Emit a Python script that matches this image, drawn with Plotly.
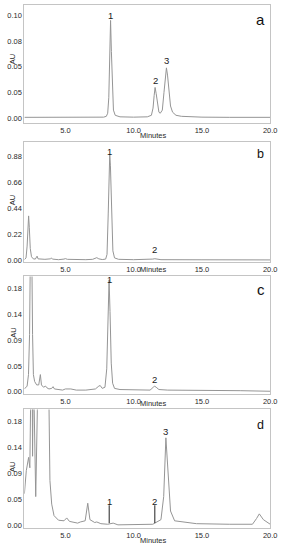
import plotly.graph_objects as go

# ---------------- data ----------------
a_time = [2.0, 4.0, 6.0, 7.8, 8.0, 8.1, 8.18, 8.25, 8.31, 8.37, 8.44, 8.52, 8.65, 9.0, 10.0, 11.0,
          11.3, 11.42, 11.5, 11.57, 11.65, 11.75, 11.85, 11.95, 12.1, 12.22, 12.32, 12.4, 12.48,
          12.58, 12.7, 12.85, 13.1, 13.5, 15.0, 17.0, 20.0]
a_au = [0.001, 0.001, 0.001, 0.0012, 0.002, 0.005, 0.02, 0.06, 0.095, 0.065, 0.025, 0.008, 0.003,
        0.0015, 0.0012, 0.0015, 0.003, 0.01, 0.022, 0.030, 0.024, 0.012, 0.006, 0.005, 0.008, 0.025,
        0.042, 0.049, 0.042, 0.025, 0.012, 0.006, 0.003, 0.002, 0.0012, 0.001, 0.001]

b_time = [2.0, 2.12, 2.2, 2.26, 2.31, 2.36, 2.43, 2.52, 2.65, 2.8, 2.88, 2.93, 3.0, 3.3, 3.5, 3.9,
          3.97, 4.05, 4.5, 4.9, 5.0, 5.15, 5.6, 6.5, 7.0, 7.2, 7.3, 7.45, 7.7, 7.95, 8.05, 8.14, 8.2,
          8.25, 8.3, 8.38, 8.48, 8.6, 8.9, 10.0, 11.2, 11.4, 11.55, 11.7, 12.0, 15.0, 20.0]
b_au = [0.005, 0.02, 0.12, 0.30, 0.376, 0.28, 0.10, 0.03, 0.012, 0.01, 0.03, 0.035, 0.012, 0.008,
        0.008, 0.012, 0.02, 0.01, 0.005, 0.01, 0.014, 0.008, 0.005, 0.005, 0.008, 0.02, 0.022, 0.012,
        0.006, 0.01, 0.05, 0.4, 0.8, 0.9, 0.8, 0.35, 0.08, 0.02, 0.008, 0.005, 0.005, 0.01, 0.013,
        0.01, 0.005, 0.004, 0.003]

c_time = [2.0, 2.2, 2.3, 2.38, 2.44, 2.52, 2.6, 2.66, 2.75, 2.9, 3.05, 3.12, 3.17, 3.25, 3.4, 3.55,
          3.65, 3.8, 4.0, 4.1, 4.2, 4.8, 5.0, 5.4, 5.8, 6.5, 7.2, 7.45, 7.55, 7.7, 7.9, 8.03, 8.12,
          8.2, 8.27, 8.36, 8.46, 8.6, 9.0, 10.0, 11.2, 11.4, 11.52, 11.65, 11.85, 12.5, 17.0, 17.5,
          17.8, 20.0]
c_au = [0.005, 0.01, 0.03, 0.1, 0.25, 0.3, 0.1, 0.03, 0.018, 0.012, 0.012, 0.028, 0.03, 0.012,
        0.008, 0.01, 0.007, 0.005, 0.006, 0.009, 0.005, 0.003, 0.005, 0.005, 0.003, 0.003, 0.005,
        0.01, 0.011, 0.006, 0.008, 0.04, 0.12, 0.195, 0.14, 0.05, 0.015, 0.006, 0.004, 0.003, 0.003,
        0.007, 0.01, 0.008, 0.004, 0.003, 0.002, 0.003, 0.002, 0.001]

d_time = [2.0, 2.14, 2.31, 2.4, 2.45, 2.55, 2.6, 2.66, 2.72, 2.83, 2.95, 3.05, 3.7, 3.8, 3.87, 4.0,
          4.17, 4.5, 4.9, 5.1, 5.3, 5.9, 6.1, 6.45, 6.64, 6.8, 7.15, 7.3, 7.6, 8.1, 8.5, 8.85, 10.3,
          11.4, 12.0, 12.2, 12.36, 12.55, 12.7, 13.0, 14.6, 17.0, 18.7, 19.0, 19.2, 19.5, 19.9, 20.0]
d_au = [0.055, 0.095, 0.118, 0.10, 0.2, 0.35, 0.12, 0.3, 0.2, 0.05, 0.2, 0.4, 0.4, 0.135, 0.078,
        0.037, 0.017, 0.009, 0.008, 0.013, 0.007, 0.004, 0.006, 0.008, 0.0385, 0.01, 0.005, 0.006,
        0.003, 0.002, 0.004, 0.001, 0.001, 0.002, 0.01, 0.05, 0.152, 0.075, 0.025, 0.008, 0.003,
        0.002, 0.002, 0.012, 0.02, 0.01, 0.003, 0.002]

# marker ticks drawn in panel d
d_mark_time = [8.21, 11.55]
d_mark_low = 0.004
d_mark_high = 0.035

# peak labels: (panel, text, time, au)
peak_labels = [
    ("a", "1", 8.31, 0.100), ("a", "2", 11.57, 0.0365), ("a", "3", 12.38, 0.0558),
    ("b", "1", 8.2, 0.925), ("b", "2", 11.5, 0.095),
    ("c", "1", 8.2, 0.195), ("c", "2", 11.5, 0.021),
    ("d", "1", 8.21, 0.041), ("d", "2", 11.55, 0.041), ("d", "3", 12.36, 0.163),
]

panel_names = ["a", "b", "c", "d"]
panel_letter_text = ["a", "b", "c", "d"]
ytick_vals = {
    "a": [0, 0.025, 0.05, 0.075, 0.1],
    "b": [0, 0.22, 0.44, 0.66, 0.88],
    "c": [0, 0.045, 0.09, 0.135, 0.18],
    "d": [0, 0.045, 0.09, 0.135, 0.18],
}
ytick_text = {
    "a": ["0.00", "0.05", "0.05", "0.08", "0.10"],
    "b": ["0.00", "0.22", "0.44", "0.66", "0.88"],
    "c": ["0.00", "0.05", "0.09", "0.14", "0.18"],
    "d": ["0.00", "0.05", "0.09", "0.14", "0.18"],
}
xtick_vals = [5.0, 10.0, 15.0, 20.0]
xtick_text = ["5.0", "10.0", "15.0", "20.0"]

# ---------------- layout geometry ----------------
W, H = 286, 550
y_ranges = {"a": [-0.0048, 0.110], "b": [-0.011, 1.003], "c": [-0.0035, 0.2008], "d": [-0.0038, 0.2012]}
frames_px = {"a": (5, 124), "b": (142.7, 263), "c": (278, 396), "d": (411.7, 530.5)}
x_dom = [25 / W, 277 / W]
letter_pos = {"a": (19.3, 0.096, 15), "b": (19.3, 0.90, 12.5), "c": (19.3, 0.178, 15), "d": (19.3, 0.175, 12.5)}
au_y_px = {"a": 60, "b": 201.7, "c": 335, "d": 470}
minutes_y_px = {"a": 136, "b": 271, "c": 406, "d": 543}

series = {"a": (a_time, a_au), "b": (b_time, b_au), "c": (c_time, c_au), "d": (d_time, d_au)}

FONT = "Liberation Sans, Arial, sans-serif"
LINE = "#959595"
FRAME = "#c4c4c4"
TXT = "#2a2a2a"

fig = go.Figure()
layout = dict(width=W, height=H, margin=dict(l=0, r=0, t=0, b=0),
              paper_bgcolor="white", plot_bgcolor="white", showlegend=False,
              font=dict(family=FONT, size=7.5, color=TXT))
annotations = []

for i, p in enumerate(panel_names):
    n = "" if i == 0 else str(i + 1)
    t, v = series[p]
    fig.add_trace(go.Scatter(x=t, y=v, mode="lines", line=dict(color=LINE, width=1),
                             xaxis="x" + n, yaxis="y" + n, hoverinfo="skip"))
    top, bot = frames_px[p]
    layout["xaxis" + n] = dict(domain=x_dom, range=[2, 20], anchor="y" + n, showgrid=False,
                               zeroline=False, showline=True, mirror=True, linecolor=FRAME,
                               linewidth=1, ticks="", tickvals=xtick_vals, ticktext=xtick_text,
                               ticklabeloverflow="allow",
                               tickfont=dict(size=7.5, color=TXT, family=FONT))
    layout["yaxis" + n] = dict(domain=[1 - bot / H, 1 - top / H], range=y_ranges[p],
                               anchor="x" + n, showgrid=False, zeroline=False, showline=True,
                               mirror=True, linecolor=FRAME, linewidth=1, ticks="",
                               tickvals=ytick_vals[p], ticktext=ytick_text[p],
                               tickfont=dict(size=7.5, color=TXT, family=FONT))
    # AU label
    annotations.append(dict(text="AU", xref="paper", yref="paper", x=13 / W, y=1 - au_y_px[p] / H,
                            showarrow=False, textangle=-90, xanchor="center", yanchor="middle",
                            font=dict(size=7.5, color=TXT, family=FONT)))
    # Minutes label
    annotations.append(dict(text="Minutes", xref="paper", yref="paper", x=157 / W,
                            y=1 - minutes_y_px[p] / H, showarrow=False, xanchor="center",
                            yanchor="middle", font=dict(size=7.5, color=TXT, family=FONT)))
    # panel letter
    lx, ly, ls = letter_pos[p]
    annotations.append(dict(text=panel_letter_text[i], xref="x" + n, yref="y" + n, x=lx, y=ly,
                            showarrow=False, xanchor="center", yanchor="middle",
                            font=dict(size=ls, color="#111", family=FONT)))

# marker ticks in panel d
for mt in d_mark_time:
    fig.add_trace(go.Scatter(x=[mt, mt], y=[d_mark_low, d_mark_high], mode="lines",
                             line=dict(color="#222", width=1), xaxis="x4", yaxis="y4",
                             hoverinfo="skip"))

for p, txt, tx, ty in peak_labels:
    i = panel_names.index(p)
    n = "" if i == 0 else str(i + 1)
    annotations.append(dict(text=txt, xref="x" + n, yref="y" + n, x=tx, y=ty, showarrow=False,
                            xanchor="center", yanchor="middle",
                            font=dict(size=9.5, color="#1a1a1a", family=FONT)))

layout["annotations"] = annotations
fig.update_layout(**layout)
fig.write_html("out.html", config={"displayModeBar": False},
               post_script="document.body.style.margin='0';document.body.style.padding='0';")
